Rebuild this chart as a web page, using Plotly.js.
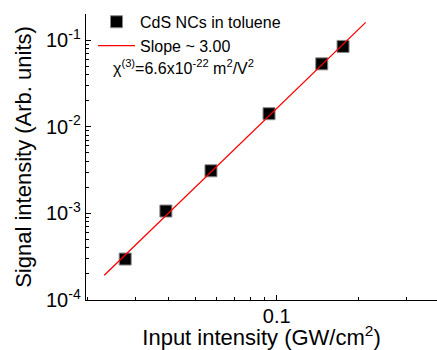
<!DOCTYPE html>
<html>
<head>
<meta charset="utf-8">
<script src="https://cdn.plot.ly/plotly-3.0.1.min.js"></script>
<style>html,body{margin:0;padding:0;background:#fff;}#chart{width:437px;height:350px;}</style>
</head>
<body>
<div id="chart"></div>
<script>
// Data
const inputIntensity = [0.0276, 0.0390, 0.0572, 0.0937, 0.1466, 0.1757];
const signalIntensity = [2.97e-4, 1.064e-3, 3.10e-3, 1.413e-2, 5.32e-2, 8.45e-2];
const fitX = [0.0231, 0.213];
const fitY = [1.93e-4, 0.160];
const yTickVals = [1e-4, 1e-3, 1e-2, 1e-1];
const yTickText = ['10<sup>-4</sup>', '10<sup>-3</sup>', '10<sup>-2</sup>', '10<sup>-1</sup>'];
const xTickVals = [0.1];
const xTickText = ['0.1'];
const seriesName = 'CdS NCs in toluene';
const fitName = 'Slope ~ 3.00';
const chiText = 'χ<sup>(3)</sup>=6.6x10<sup>-22</sup> m<sup>2</sup>/V<sup>2</sup>';

const FONT = 'Liberation Sans, Arial, sans-serif';

const traces = [
  {
    x: inputIntensity, y: signalIntensity, type: 'scatter', mode: 'markers',
    name: seriesName,
    marker: {symbol: 'square', size: 12, color: '#000', line: {color: '#888', width: 1}}
  },
  {
    x: fitX, y: fitY, type: 'scatter', mode: 'lines',
    name: fitName,
    line: {color: '#ff0000', width: 1.3}
  }
];

const layout = {
  width: 437, height: 350,
  margin: {l: 86, r: 0, t: 14, b: 50},
  paper_bgcolor: '#fff', plot_bgcolor: '#fff',
  font: {family: FONT, color: '#000'},
  showlegend: true,
  legend: {
    x: 0.02, xanchor: 'left', y: 1.032, yanchor: 'top',
    bgcolor: 'rgba(0,0,0,0)', font: {family: FONT, size: 16, color: '#000'},
    itemwidth: 37, tracegroupgap: 0
  },
  xaxis: {
    type: 'log', range: [-1.7037, -0.4085],
    showline: true, linecolor: '#000', linewidth: 1.3,
    showgrid: false, zeroline: false, mirror: false,
    tickmode: 'array', tickvals: xTickVals, ticktext: xTickText,
    ticks: 'inside', ticklen: 5, tickwidth: 1, tickcolor: '#000',
    ticklabelstandoff: -2,
    tickfont: {family: FONT, size: 20, color: '#000'},
    minor: {ticks: 'inside', ticklen: 3, tickwidth: 1, tickcolor: '#000', dtick: 'D1', showgrid: false},
    title: {text: 'Input intensity (GW/cm<sup>2</sup>)', font: {family: FONT, size: 22, color: '#000'}, standoff: 10},
    fixedrange: true
  },
  yaxis: {
    type: 'log', range: [-4, Math.log10(0.2)],
    showline: true, linecolor: '#000', linewidth: 1.3,
    showgrid: false, zeroline: false, mirror: false,
    tickmode: 'array', tickvals: yTickVals, ticktext: yTickText,
    ticks: 'inside', ticklen: 5, tickwidth: 1, tickcolor: '#000',
    tickfont: {family: FONT, size: 20, color: '#000'},
    minor: {ticks: 'inside', ticklen: 3, tickwidth: 1, tickcolor: '#000', dtick: 'D1', showgrid: false},
    title: {text: 'Signal intensity (Arb. units)', font: {family: FONT, size: 22, color: '#000'}, standoff: 8},
    fixedrange: true
  },
  annotations: [
    {
      xref: 'paper', yref: 'paper', x: 0.072, y: 0.815, xanchor: 'left', yanchor: 'middle',
      text: chiText, showarrow: false, font: {family: FONT, size: 16, color: '#000'}
    }
  ]
};

Plotly.newPlot('chart', traces, layout, {displayModeBar: false, staticPlot: true});
</script>
</body>
</html>
